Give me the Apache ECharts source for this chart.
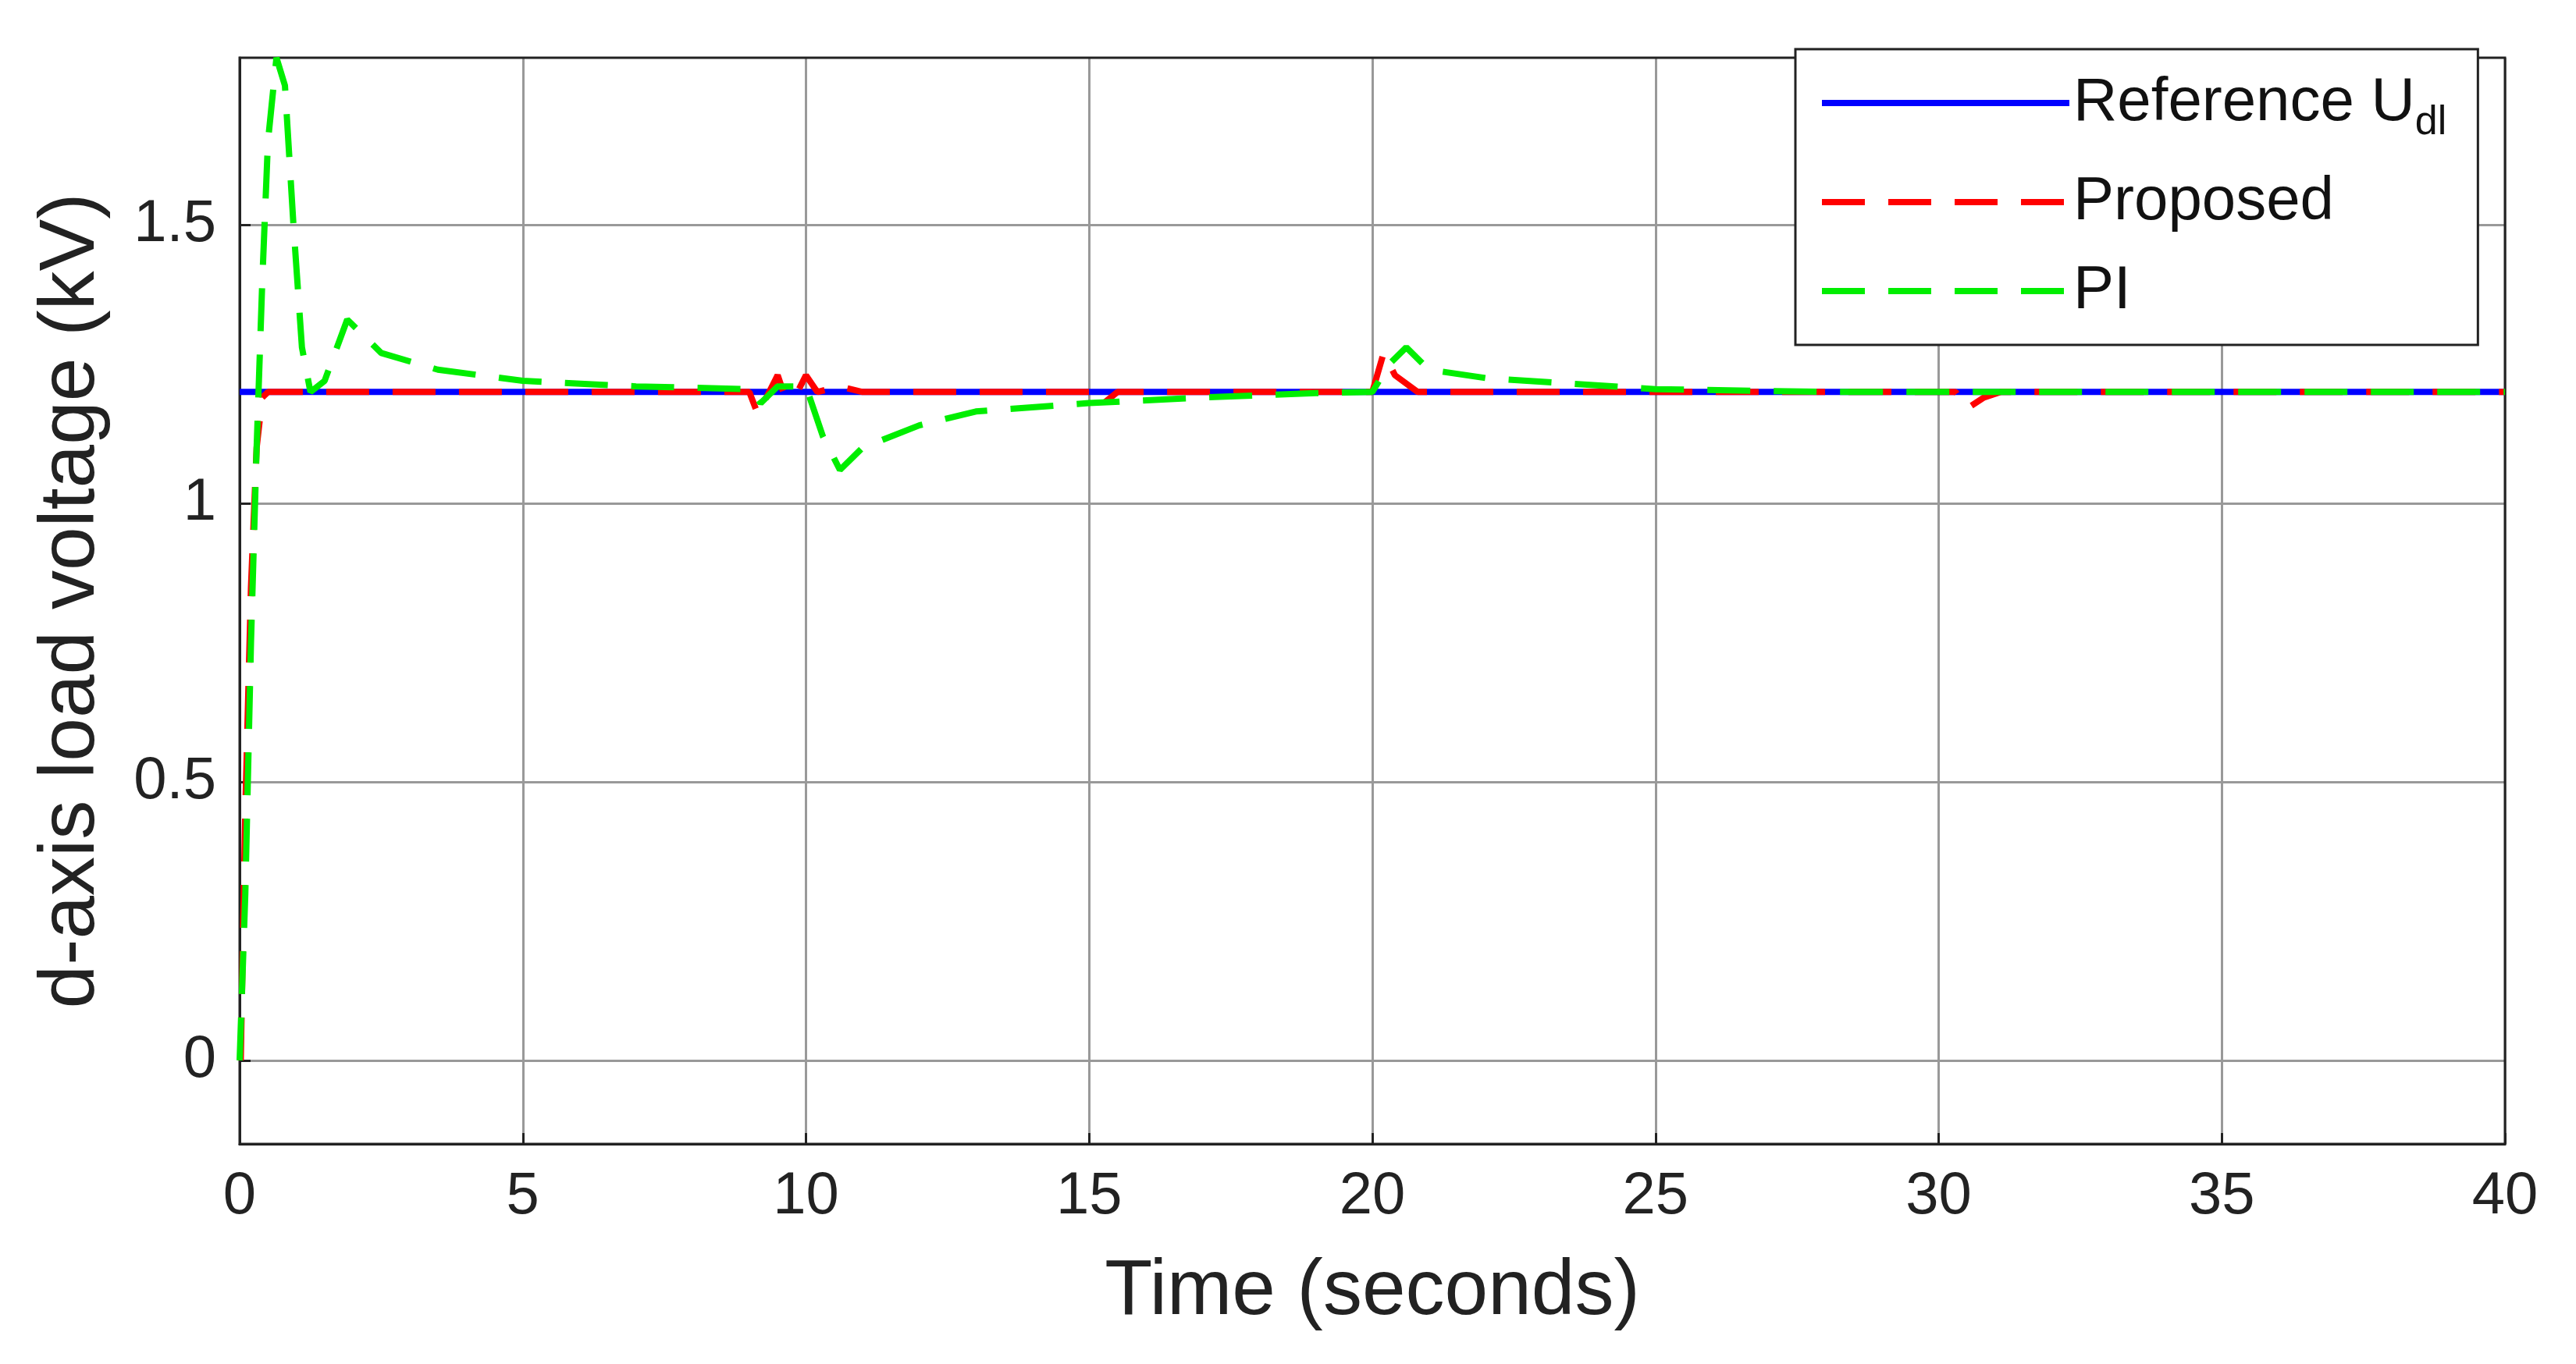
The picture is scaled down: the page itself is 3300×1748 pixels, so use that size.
<!DOCTYPE html>
<html>
<head>
<meta charset="utf-8">
<script src="https://cdn.jsdelivr.net/npm/echarts@6/dist/echarts.min.js"></script>
<style>html,body{margin:0;background:#fff}#main{width:3300px;height:1748px}</style>
</head>
<body>
<div id="main"></div>
<script>
var myChart = echarts.init(document.getElementById('main'));

var xTicks = [0, 5, 10, 15, 20, 25, 30, 35, 40];
var yTicks = [0, 0.5, 1, 1.5];

var reference = [[0, 1.2], [40, 1.2]];
var proposed = [
    [0.02, 0], [0.1, 0.45], [0.2, 0.85], [0.3, 1.1], [0.4, 1.19], [0.5, 1.2],
    [9.0, 1.2], [9.15, 1.16], [9.3, 1.19], [9.5, 1.23], [9.6, 1.2], [9.8, 1.19],
    [10.0, 1.23], [10.2, 1.2], [10.6, 1.21], [11, 1.2],
    [15.0, 1.2], [15.2, 1.175], [15.5, 1.2],
    [20.0, 1.2], [20.2, 1.27], [20.4, 1.23], [20.8, 1.2],
    [30.3, 1.2], [30.5, 1.17], [30.8, 1.19], [31.1, 1.2], [40, 1.2]
];
var pi = [
    [0, 0], [0.1, 0.3], [0.2, 0.75], [0.3, 1.1], [0.4, 1.4], [0.5, 1.65], [0.65, 1.8],
    [0.8, 1.75], [0.95, 1.5], [1.1, 1.28], [1.25, 1.2], [1.5, 1.22], [1.9, 1.33],
    [2.5, 1.27], [3.5, 1.24], [5, 1.22], [7, 1.21], [9, 1.205], [9.2, 1.18],
    [9.5, 1.21], [10.0, 1.21], [10.3, 1.12], [10.6, 1.06], [11, 1.1], [12, 1.14],
    [13, 1.165], [15, 1.18], [17, 1.19], [19, 1.198], [20, 1.2], [20.3, 1.25],
    [20.6, 1.28], [21, 1.24], [22, 1.225], [25, 1.205], [28, 1.2], [40, 1.2]
];

var font = 'Liberation Sans';

option = {
    animation: false,
    grid: {left: 307, right: 91, top: 74, bottom: 282},
    legend: {
        orient: 'vertical',
        left: 2300, top: 63,
        width: 940,
        padding: [30, 40, 30, 30],
        itemGap: 36,
        itemWidth: 317,
        itemHeight: 14,
        backgroundColor: '#fff',
        borderColor: '#222',
        borderWidth: 3,
        itemStyle: {opacity: 0},
        lineStyle: {width: 8},
        textStyle: {
            fontFamily: font, fontSize: 78, color: '#111',
            rich: {sub: {fontFamily: font, fontSize: 52, color: '#111', padding: [52, 0, 0, 0]}}
        },
        formatter: function (name) {
            return name === 'ref' ? 'Reference U{sub|dl}' : name;
        },
        data: ['ref', 'Proposed', 'PI']
    },
    xAxis: {
        type: 'value', min: 0, max: 40, interval: 5,
        name: 'Time (seconds)', nameLocation: 'middle', nameGap: 140,
        nameTextStyle: {fontFamily: font, fontSize: 100, color: '#222'},
        axisLine: {onZero: false, lineStyle: {color: '#222', width: 3}},
        axisTick: {inside: true, length: 14, lineStyle: {color: '#222', width: 3}},
        axisLabel: {fontFamily: font, fontSize: 76, color: '#222', margin: 30},
        splitLine: {show: true, lineStyle: {color: '#999', width: 3}}
    },
    yAxis: {
        type: 'value', min: -0.15, max: 1.8,
        name: 'd-axis load voltage (kV)', nameLocation: 'middle', nameGap: 165,
        nameTextStyle: {fontFamily: font, fontSize: 100, color: '#222'},
        axisLine: {show: true, onZero: false, lineStyle: {color: '#222', width: 3}},
        axisTick: {inside: true, length: 14, customValues: yTicks, lineStyle: {color: '#222', width: 3}},
        axisLabel: {fontFamily: font, fontSize: 76, color: '#222', margin: 30, customValues: yTicks},
        splitLine: {show: true, lineStyle: {color: '#999', width: 3}}
    },
    series: [
        {name: 'ref', type: 'line', data: reference, symbol: 'none',
            lineStyle: {color: '#0000ff', width: 8}, itemStyle: {color: '#0000ff'}, z: 2},
        {name: 'Proposed', type: 'line', data: proposed, symbol: 'none',
            lineStyle: {color: '#ff0000', width: 8, type: [55, 30]}, itemStyle: {color: '#ff0000'}, z: 3},
        {name: 'PI', type: 'line', data: pi, symbol: 'none',
            lineStyle: {color: '#00ee00', width: 8, type: [55, 30]}, itemStyle: {color: '#00ee00'}, z: 4}
    ]
};

myChart.setOption(option);
// outer frame: top and right axis lines
myChart.setOption({
    graphic: [{
        type: 'rect', shape: {x: 307, y: 74, width: 2902, height: 1392},
        style: {fill: 'none', stroke: '#222', lineWidth: 3}, silent: true, z: 1
    }]
});
</script>
</body>
</html>
